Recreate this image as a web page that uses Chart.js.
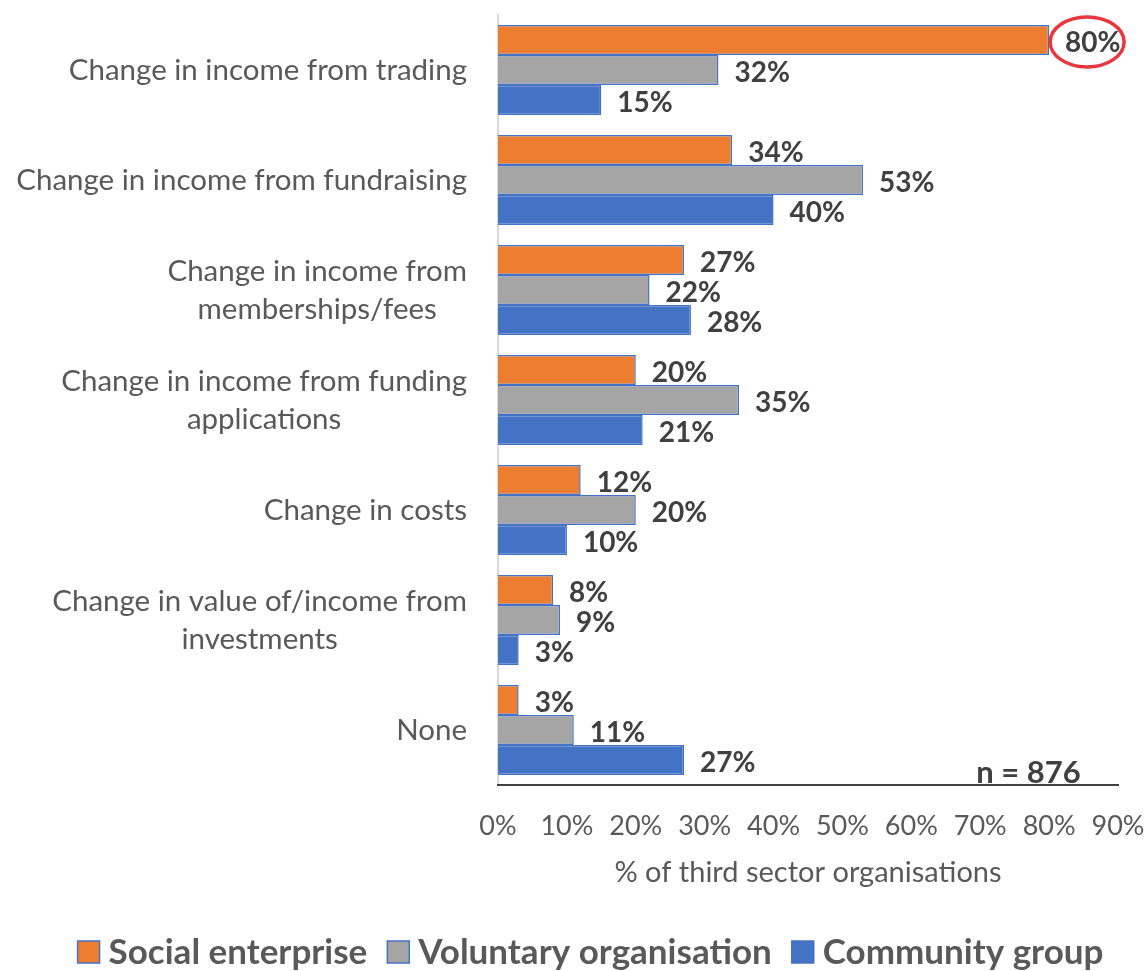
<!DOCTYPE html>
<html>
<head>
<meta charset="utf-8">
<script src="https://cdn.jsdelivr.net/npm/chart.js@4"></script>
<style>
  html, body { margin: 0; padding: 0; background: #fff; }
  #wrap { width: 1147px; height: 971px; position: relative; }
</style>
</head>
<body>
<div id="wrap"><canvas id="myChart"></canvas></div>
<script>
// categorias (cada una en lineas)
var categories = [
    ['Change in income from trading'],
    ['Change in income from fundraising'],
    ['Change in income from', 'memberships/fees'],
    ['Change in income from funding', 'applications'],
    ['Change in costs'],
    ['Change in value of/income from', 'investments'],
    ['None']
];
var seriesNames = ['Social enterprise', 'Voluntary organisation', 'Community group'];
var socialEnterprise = [80, 34, 27, 20, 12, 8, 3];
var voluntaryOrg = [32, 53, 22, 35, 20, 9, 11];
var communityGroup = [15, 40, 28, 21, 10, 3, 27];
var xTicks = [0, 10, 20, 30, 40, 50, 60, 70, 80, 90];
var sampleNote = 'n = 876';

var FONT = 'Lato, "Open Sans", sans-serif';
var GREY_TEXT = '#595959';
var LABEL_TEXT = '#404040';

// dibuja etiquetas del eje y, valores, n, el circulo rojo y la leyenda
var extrasPlugin = {
    id: 'extras',
    afterDatasetsDraw: function (chart) {
        var ctx = chart.ctx;
        var area = chart.chartArea;
        var yScale = chart.scales.y;
        var xScale = chart.scales.x;

        ctx.save();
        // etiquetas de categorias
        ctx.font = '29.5px ' + FONT;
        ctx.fillStyle = GREY_TEXT;
        ctx.textAlign = 'center';
        ctx.textBaseline = 'middle';
        var lineH = 38;
        categories.forEach(function (lines, i) {
            var cy = yScale.getPixelForTick(i);
            var w = 0;
            lines.forEach(function (l) { w = Math.max(w, ctx.measureText(l).width); });
            var cx = area.left - 31 - w / 2;
            var y0 = cy - (lines.length - 1) * lineH / 2;
            lines.forEach(function (l, j) { ctx.fillText(l, cx, y0 + j * lineH); });
        });

        // valores
        ctx.font = 'bold 28px ' + FONT;
        ctx.fillStyle = LABEL_TEXT;
        ctx.textAlign = 'left';
        chart.data.datasets.forEach(function (ds, di) {
            var meta = chart.getDatasetMeta(di);
            meta.data.forEach(function (bar, i) {
                ctx.fillText(ds.data[i] + '%', bar.x + 16, bar.y + 3);
            });
        });

        // n = 876
        ctx.font = 'bold 31px ' + FONT;
        ctx.textAlign = 'center';
        ctx.textBaseline = 'alphabetic';
        ctx.fillText(sampleNote, xScale.getPixelForValue(77), area.bottom - 2);

        // circulo rojo alrededor del 80%
        var topBar = chart.getDatasetMeta(0).data[0];
        ctx.strokeStyle = '#E8373F';
        ctx.lineWidth = 3.5;
        ctx.beginPath();
        ctx.ellipse(topBar.x + 38, topBar.y + 2, 37, 25, 0, 0, Math.PI * 2);
        ctx.stroke();

        // leyenda
        ctx.font = 'bold 35px ' + FONT;
        ctx.textBaseline = 'middle';
        ctx.textAlign = 'left';
        var box = 22, gapText = 9, gapItem = 20;
        var total = 0;
        chart.data.datasets.forEach(function (ds, i) {
            total += box + gapText + ctx.measureText(ds.label).width + (i < 2 ? gapItem : 0);
        });
        var lx = chart.width / 2 + 17 - total / 2;
        var ly = 952;
        chart.data.datasets.forEach(function (ds) {
            ctx.fillStyle = ds.backgroundColor;
            ctx.fillRect(lx, ly - box / 2, box, box);
            ctx.strokeStyle = ds.borderColor;
            ctx.lineWidth = 1.5;
            ctx.strokeRect(lx, ly - box / 2, box, box);
            ctx.fillStyle = GREY_TEXT;
            ctx.fillText(ds.label, lx + box + gapText, ly + 1);
            lx += box + gapText + ctx.measureText(ds.label).width + gapItem;
        });
        ctx.restore();
    }
};

var ctx = document.getElementById('myChart').getContext('2d');
var myChart = new Chart(ctx, {
    type: 'bar',
    data: {
        labels: categories,
        datasets: [{
            label: seriesNames[0],
            data: socialEnterprise,
            backgroundColor: '#ED7D31',
            borderColor: '#4472C4',
            borderWidth: 1.5
        }, {
            label: seriesNames[1],
            data: voluntaryOrg,
            backgroundColor: '#A5A5A5',
            borderColor: '#4472C4',
            borderWidth: 1.5
        }, {
            label: seriesNames[2],
            data: communityGroup,
            backgroundColor: '#4472C4',
            borderColor: '#4472C4',
            borderWidth: 1.5
        }]
    },
    options: {
        indexAxis: 'y',
        responsive: true,
        maintainAspectRatio: false,
        animation: false,
        categoryPercentage: 0.82,
        barPercentage: 1,
        layout: { padding: { top: 15, right: 0, left: 0, bottom: 76 } },
        scales: {
            y: {
                grid: { display: false, drawTicks: false },
                border: { display: true, color: '#D9D9D9', width: 2 },
                ticks: { display: false },
                afterFit: function (s) { s.width = 498; }
            },
            x: {
                min: 0,
                max: 90,
                afterBuildTicks: function (s) {
                    s.ticks = xTicks.map(function (v) { return { value: v }; });
                },
                grid: { display: false, drawTicks: false },
                border: { display: true, color: '#404040', width: 2 },
                ticks: {
                    color: GREY_TEXT,
                    font: { family: FONT, size: 27 },
                    padding: 25,
                    maxRotation: 0,
                    autoSkip: false,
                    callback: function (v) { return v + '%'; }
                },
                title: {
                    display: true,
                    text: '% of third sector organisations',
                    color: GREY_TEXT,
                    font: { family: FONT, size: 29 },
                    padding: { top: 0, bottom: 5 }
                },
                afterFit: function (s) {
                    s.height = 110;
                    s.paddingLeft = 0;
                    s.paddingRight = 29;
                }
            }
        },
        plugins: {
            legend: { display: false },
            tooltip: { enabled: false }
        }
    },
    plugins: [extrasPlugin]
});
</script>
</body>
</html>
